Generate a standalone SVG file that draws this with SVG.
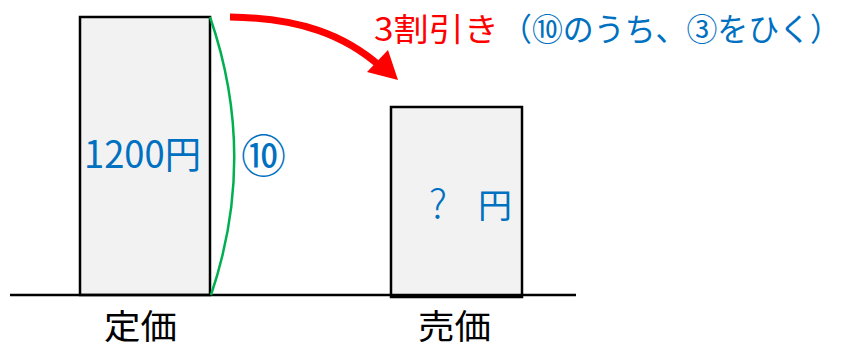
<svg xmlns="http://www.w3.org/2000/svg" width="851" height="348" viewBox="0 0 851 348">
<style>
.box{fill:#f2f2f2;stroke:#000;stroke-width:2.5}
.t{font-family:"Noto Sans CJK JP","Noto Sans",sans-serif;font-size:32px}
.blue{fill:#0070c0}
.red{fill:#ff0000}
.blk{fill:#000}
</style>
<rect width="851" height="348" fill="#fff"/>
<g id="teika">
<rect class="box" x="80" y="17" width="130" height="278"/>
<text class="t blue" x="84" y="168" style="font-size:38px" textLength="117" lengthAdjust="spacingAndGlyphs">1200円</text>
</g>
<g id="baika">
<rect class="box" x="391" y="107" width="131" height="190"/>
<text class="t blue" x="429" y="218" style="font-size:40px;font-weight:300">?</text>
<text class="t blue" x="478" y="218" style="font-size:34px">円</text>
</g>
<g id="connectors">
<line x1="10" y1="295" x2="576" y2="295" stroke="#000" stroke-width="2.5"/>
<path d="M210,17 Q258,156 211,295" fill="none" stroke="#00b050" stroke-width="2.5"/>
<path d="M230,17 C300,18 345,35 381,67" fill="none" stroke="#ff0000" stroke-width="7"/>
<path d="M367,72 L398,80 L388,50 Z" fill="#ff0000"/>
</g>
<g id="labels">
<text class="t blue" x="241" y="173" style="font-size:45px">⑩</text>
<text class="t red" x="374" y="41" textLength="125" lengthAdjust="spacingAndGlyphs">3割引き</text>
<text class="t blue" x="501" y="41" textLength="340" lengthAdjust="spacingAndGlyphs">（⑩のうち、③をひく）</text>
<text class="t blk" x="104" y="339" style="font-size:34px" textLength="73" lengthAdjust="spacingAndGlyphs">定価</text>
<text class="t blk" x="418" y="339" style="font-size:34px" textLength="73" lengthAdjust="spacingAndGlyphs">売価</text>
</g>
</svg>
